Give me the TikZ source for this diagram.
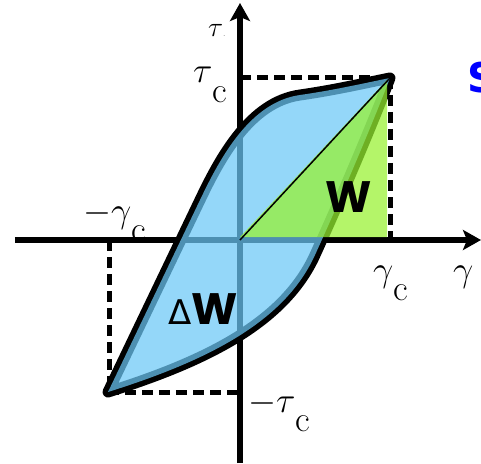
\RequirePackage{fix-cm}
\documentclass[tikz,border=0pt]{standalone}
\usepackage{fontspec}
\usepackage{xcolor}
\usetikzlibrary{arrows.meta}
\newfontfamily\wfont{Poppins}
\newfontfamily\dfont{DejaVu Sans}
\definecolor{LoopBlue}{RGB}{107,200,247}
\definecolor{WorkGreen}{RGB}{152,241,49}
\definecolor{TitleBlue}{RGB}{0,0,255}
\newcommand{\lowc}{\raisebox{-.55em}{c}}
\tikzset{
  axis/.style={line width=6.5pt,-{Stealth[length=18pt,width=20pt,inset=4pt]}},
  bound/.style={line width=5pt,dash pattern=on 11pt off 6pt},
  lbl/.style={inner sep=0pt,font=\fontsize{36}{40}\selectfont},
  energy/.style={inner sep=0pt,font=\wfont\bfseries\fontsize{44}{48}\selectfont}
}

\begin{document}
\begin{tikzpicture}[x=1pt,y=1pt]
\useasboundingbox (-240,-223) rectangle (241,240);
\coordinate (O) at (0,0);
\coordinate (C) at (150,162);
\coordinate (D) at (-132,-152);
\coordinate (xl) at (-225,0);
\coordinate (xr) at (241,0);
\coordinate (yb) at (0,-223);
\coordinate (yt) at (0,237);
% axes
\draw[axis] (xl)--(xr);
\draw[axis] (yb)--(yt);
% bounds
\draw[bound] (0,162)--(C);
\draw[bound] (C)--(150,0);
\draw[bound] (-130,0)--(-130,-152);
\draw[bound] (D)--(0,-152);
% loop
\path[preaction={draw=black,fill=none,line width=11pt,line join=round},
      fill=LoopBlue,fill opacity=.72]
  (D) -- (-40,40) .. controls (-20,82) and (10,138) .. (60,145)
  .. controls (95,150) and (125,157) .. (C)
  .. controls (130,110) and (100,40) .. (75,-15)
  .. controls (45,-81) and (-30,-120) .. (D) -- cycle;
% stored energy
\fill[WorkGreen,fill opacity=.73] (0,3)--(147,3)--(147,160)--cycle;
\draw[line width=1.5pt] (O)--(C);
% labels
\node[lbl,font=\fontsize{28}{32}\selectfont,anchor=base west] (tau) at (-32,203) {$\tau$\scriptsize.};
\node[lbl,anchor=base west] (tauc) at (-47,157) {$\tau$\lowc};
\node[lbl,anchor=base west] (mgamc) at (-157,18) {$-\gamma$\lowc};
\node[lbl,anchor=base west] (gamc) at (133,-41) {$\gamma$\lowc};
\node[lbl,anchor=base west] (gam) at (213,-41) {$\gamma$};
\node[lbl,anchor=base west] (mtauc) at (8,-172) {$-\tau$\lowc};
\node[energy] (W) at (109,43) {W};
\node[energy] (dW) at (-37,-69) {{\dfont\mdseries\fontsize{34}{40}\selectfont Δ}W};
\node[inner sep=0pt,anchor=base west,text=TitleBlue,font=\dfont\bfseries\fontsize{41}{44}\selectfont] (S) at (227,147) {S};
\end{tikzpicture}
\end{document}
